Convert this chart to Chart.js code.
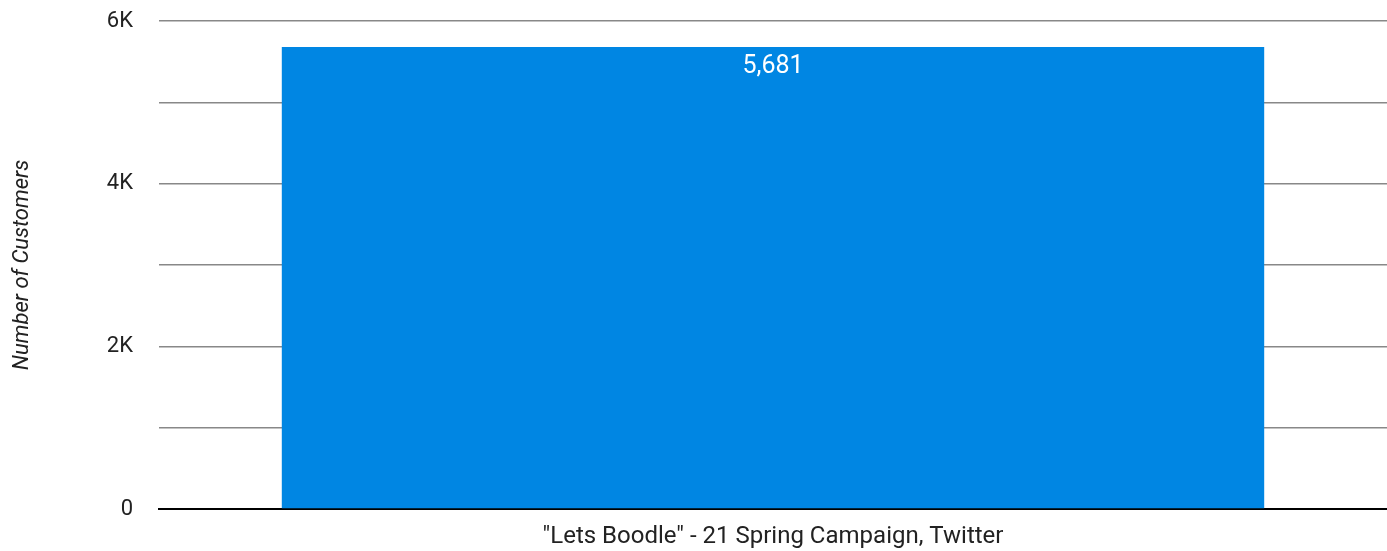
<!DOCTYPE html>
<html>
<head>
<meta charset="utf-8">
<script src="https://cdn.jsdelivr.net/npm/chart.js@4.4.0/dist/chart.umd.min.js"></script>
<style>
    html, body { margin: 0; padding: 0; background: #fff; }
    #wrap { width: 1387px; height: 551px; }
</style>
</head>
<body>
<div id="wrap"><canvas id="bar-chart"></canvas></div>
<script>
// данни за графиката
const categories = ['"Lets Boodle" - 21 Spring Campaign, Twitter'];
const customers = [5681];
const yTicks = [0, 1000, 2000, 3000, 4000, 5000, 6000];
const yLabels = ['0', '', '2K', '', '4K', '', '6K'];

const barColor = '#0086e3';

// надпис със стойността вътре в стълба
const valueLabels = {
    id: 'valueLabels',
    afterDatasetsDraw(chart) {
        const ctx = chart.ctx;
        const meta = chart.getDatasetMeta(0);
        ctx.save();
        ctx.fillStyle = '#ffffff';
        ctx.font = '25px Roboto';
        ctx.textAlign = 'center';
        ctx.textBaseline = 'top';
        meta.data.forEach((bar, i) => {
            ctx.fillText(customers[i].toLocaleString('en-US'), bar.x, bar.y + 7);
        });
        ctx.restore();
    }
};

new Chart(document.getElementById('bar-chart'), {
    type: 'bar',
    data: {
        labels: categories,
        datasets: [{
            label: 'Number of Customers',
            data: customers,
            backgroundColor: barColor,
            borderWidth: 0,
            barPercentage: 0.8,
            categoryPercentage: 1
        }]
    },
    options: {
        responsive: true,
        maintainAspectRatio: false,
        animation: false,
        layout: { padding: 0 },
        scales: {
            x: {
                grid: { display: false },
                border: { color: '#000', width: 2 },
                ticks: {
                    color: '#222',
                    padding: 6,
                    font: { family: 'Roboto', size: 24 }
                },
                afterFit(scale) { scale.height = 42; }
            },
            y: {
                min: 0,
                max: 6000,
                afterBuildTicks(scale) {
                    scale.ticks = yTicks.map(v => ({ value: v }));
                },
                grid: {
                    color: '#888',
                    lineWidth: 1.5,
                    drawTicks: false
                },
                border: { display: false },
                ticks: {
                    color: '#222',
                    padding: 26,
                    font: { family: 'Roboto', size: 22 },
                    callback: (v, i) => yLabels[i]
                },
                title: {
                    display: true,
                    text: 'Number of Customers',
                    color: '#222',
                    padding: { top: 9, bottom: 0 },
                    font: { family: 'Roboto', size: 22, style: 'italic' }
                },
                // фиксираме ширината и горния отстъп на оста
                afterFit(scale) {
                    scale.width = 159;
                    scale.paddingTop = 21;
                    scale.paddingBottom = 0;
                }
            }
        },
        plugins: {
            legend: { display: false },
            tooltip: { enabled: false }
        }
    },
    plugins: [valueLabels]
});
</script>
</body>
</html>
